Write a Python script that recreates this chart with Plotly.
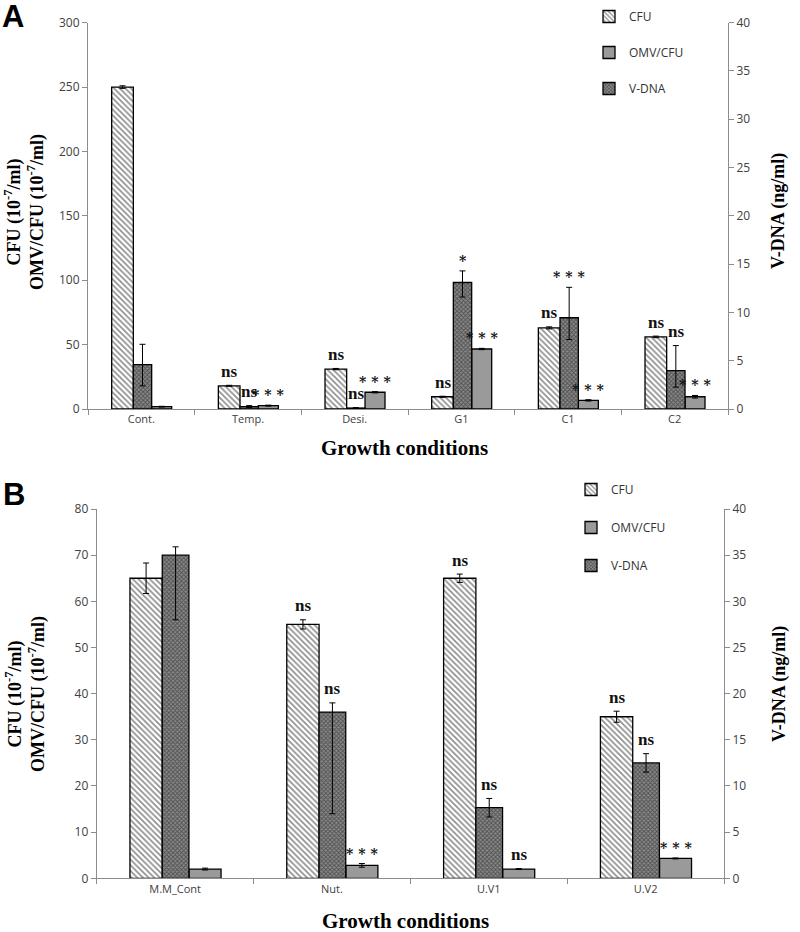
import plotly.graph_objects as go

# ---------------- data ----------------
categories_a = ["Cont.", "Temp.", "Desi.", "G1", "C1", "C2"]
cfu_a = [250, 18, 31, 9.5, 63, 56]
cfu_a_err = [1.0, 0.4, 0.5, 0.4, 0.8, 0.6]
vdna_a = [4.6, 0.25, 0.1, 13.1, 9.45, 3.97]
vdna_a_err_plus = [2.1, 0.1, 0.05, 1.2, 3.15, 2.6]
vdna_a_err_minus = [2.2, 0.1, 0.05, 1.5, 2.25, 1.7]
omv_a = [1.8, 2.6, 13, 46.6, 6.7, 9.5]
omv_a_err = [0.3, 0.4, 0.5, 0.5, 0.5, 1.0]
labels_cfu_a = ["", "ns", "ns", "ns", "ns", "ns"]
labels_vdna_a = ["", "ns", "ns", "*", "***", "ns"]
labels_omv_a = ["", "***", "***", "***", "***", "***"]

categories_b = ["M.M_Cont", "Nut.", "U.V1", "U.V2"]
cfu_b = [65, 55, 65, 35]
cfu_b_err = [3.3, 1.0, 0.9, 1.2]
vdna_b = [35, 18, 7.65, 12.5]
vdna_b_err_plus = [0.9, 1.0, 1.0, 1.0]
vdna_b_err_minus = [7.0, 11.0, 1.0, 1.0]
omv_b = [2.0, 2.8, 2.0, 4.3]
omv_b_err = [0.2, 0.4, 0.1, 0.1]
labels_cfu_b = ["", "ns", "ns", "ns"]
labels_vdna_b = ["", "ns", "ns", "ns"]
labels_omv_b = ["", "***", "ns", "***"]

# ---------------- styles ----------------
TICK_FONT = dict(family="Open Sans", size=12, color="#404040")
SERIF = "Liberation Serif"
AX_COLOR = "#8c8c8c"

cfu_marker = dict(color="white", line=dict(color="black", width=1.3),
                  pattern=dict(shape="\\", fgcolor="#1a1a1a", bgcolor="white",
                               size=4, solidity=0.4))
vdna_marker = dict(color="#555555", line=dict(color="black", width=1.3),
                   pattern=dict(shape="x", fgcolor="#151515", bgcolor="#8a8a8a",
                                size=3, solidity=0.5))
omv_marker = dict(color="#9a9a9a", line=dict(color="black", width=1.3))


def err(plus, minus=None):
    d = dict(type="data", array=plus, color="black", thickness=1, width=3)
    if minus is not None:
        d.update(symmetric=False, arrayminus=minus)
    return d


fig = go.Figure()

geom_a = {"cfu": (-0.278, 0.203), "vdna": (-0.075, 0.172), "omv": (0.097, 0.1875)}
geom_b = {"cfu": (-0.288, 0.206), "vdna": (-0.082, 0.170), "omv": (0.089, 0.204)}


def add_panel(cats, cfu, cfu_e, vdna, vp, vm, omv, omv_e, xa, yl, yr, leg, geom):
    fig.add_trace(go.Bar(name="CFU", x=cats, y=cfu, xaxis=xa, yaxis=yl,
                         offset=geom["cfu"][0], width=geom["cfu"][1],
                         marker=cfu_marker, error_y=err(cfu_e),
                         legend=leg, legendgroup=leg + "cfu", legendrank=1))
    fig.add_trace(go.Bar(name="V-DNA", x=cats, y=vdna, xaxis=xa, yaxis=yr,
                         offset=geom["vdna"][0], width=geom["vdna"][1],
                         marker=vdna_marker, error_y=err(vp, vm),
                         legend=leg, legendgroup=leg + "vdna", legendrank=3))
    fig.add_trace(go.Bar(name="OMV/CFU", x=cats, y=omv, xaxis=xa, yaxis=yl,
                         offset=geom["omv"][0], width=geom["omv"][1],
                         marker=omv_marker, error_y=err(omv_e),
                         legend=leg, legendgroup=leg + "omv", legendrank=2))


add_panel(categories_a, cfu_a, cfu_a_err, vdna_a, vdna_a_err_plus, vdna_a_err_minus,
          omv_a, omv_a_err, "x", "y", "y2", "legend", geom_a)
add_panel(categories_b, cfu_b, cfu_b_err, vdna_b, vdna_b_err_plus, vdna_b_err_minus,
          omv_b, omv_b_err, "x2", "y3", "y4", "legend2", geom_b)

annotations = []


def add_labels(labels, vals, tops, geom_key, geom, xref, yref):
    off, w = geom[geom_key]
    for i, (lab, v, t) in enumerate(zip(labels, vals, tops)):
        if not lab:
            continue
        star = lab.startswith("*")
        annotations.append(dict(
            x=i + off + w / 2, y=v + t, xref=xref, yref=yref,
            text=("<b>" + " ".join(lab) + "</b>") if star else "<b>" + lab + "</b>",
            showarrow=False, xanchor="center", yanchor="middle",
            yshift=10 if star else 14,
            font=dict(family="DejaVu Serif" if star else SERIF,
                      size=14 if star else 17, color="#111")))


add_labels(labels_cfu_a, cfu_a, cfu_a_err, "cfu", geom_a, "x", "y")
add_labels(labels_vdna_a, vdna_a, vdna_a_err_plus, "vdna", geom_a, "x", "y2")
add_labels(labels_omv_a, omv_a, omv_a_err, "omv", geom_a, "x", "y")
add_labels(labels_cfu_b, cfu_b, cfu_b_err, "cfu", geom_b, "x2", "y3")
add_labels(labels_vdna_b, vdna_b, vdna_b_err_plus, "vdna", geom_b, "x2", "y4")
add_labels(labels_omv_b, omv_b, omv_b_err, "omv", geom_b, "x2", "y3")

W = 800.0
H = 932.0


def fx(xp):
    return xp / W


def fy(yp):
    return 1 - yp / H


def paper_text(xp, yp, text, font, angle=0):
    annotations.append(dict(x=fx(xp), y=fy(yp), xref="paper", yref="paper",
                            xanchor="center", yanchor="middle", text=text,
                            textangle=angle, showarrow=False, font=font))


# panel letters
paper_text(13, 16, "<b>A</b>", dict(family="Liberation Sans", size=31, color="black"))
paper_text(14, 494, "<b>B</b>", dict(family="Liberation Sans", size=31, color="black"))

left_title = "<b>CFU (10<sup>-7</sup>/ml)<br>OMV/CFU (10<sup>-7</sup>/ml)</b>"
for yp in (212, 694):
    paper_text(25, yp, left_title, dict(family=SERIF, size=18, color="black"), -90)
for yp in (211, 684):
    paper_text(779, yp, "<b>V-DNA (ng/ml)</b>", dict(family=SERIF, size=18, color="black"), -90)
for xp, yp in [(404, 448), (405, 921)]:
    paper_text(xp, yp, "<b>Growth conditions</b>", dict(family=SERIF, size=21, color="black"))

xa_common = dict(type="category", showline=True, linecolor=AX_COLOR, linewidth=1,
                 ticks="outside", tickson="boundaries", ticklen=5, tickcolor=AX_COLOR,
                 tickfont=dict(family="Open Sans", size=11, color="#404040"),
                 showgrid=False, zeroline=False, automargin=False)
ya_common = dict(showline=True, linecolor=AX_COLOR, linewidth=1, ticks="outside",
                 ticklen=5, tickcolor=AX_COLOR, tickfont=TICK_FONT,
                 showgrid=False, zeroline=False, automargin=False)

fig.update_layout(
    width=W, height=H,
    margin=dict(l=0, r=0, t=0, b=0, autoexpand=False),
    paper_bgcolor="white", plot_bgcolor="white",
    barmode="overlay",
    xaxis=dict(domain=[fx(88), fx(728)], anchor="y", range=[-0.5, 5.5], **xa_common),
    yaxis=dict(domain=[fy(409), fy(22.7)], anchor="x", range=[0, 300], dtick=50, **ya_common),
    yaxis2=dict(overlaying="y", anchor="x", side="right", range=[0, 40], dtick=5, **ya_common),
    xaxis2=dict(domain=[fx(96.7), fx(724)], anchor="y3", range=[-0.5, 3.5], **xa_common),
    yaxis3=dict(domain=[fy(878.3), fy(509)], anchor="x2", range=[0, 80], dtick=10, **ya_common),
    yaxis4=dict(overlaying="y3", anchor="x2", side="right", range=[0, 40], dtick=5, **ya_common),
    legend=dict(x=fx(589), y=fy(2), xanchor="left", yanchor="top",
                bgcolor="rgba(0,0,0,0)", tracegroupgap=17, itemwidth=30,
                font=dict(family="Open Sans", size=12, color="#333")),
    legend2=dict(x=fx(571), y=fy(475), xanchor="left", yanchor="top",
                 bgcolor="rgba(0,0,0,0)", tracegroupgap=19, itemwidth=30,
                 font=dict(family="Open Sans", size=12, color="#333")),
    annotations=annotations,
    showlegend=True,
)

# remove the default 8px page margin so the 800x932 figure fills the window exactly
fig.write_html("out.html",
               config={"displayModeBar": False},
               post_script="document.body.style.margin='0';document.body.style.overflow='hidden';")
